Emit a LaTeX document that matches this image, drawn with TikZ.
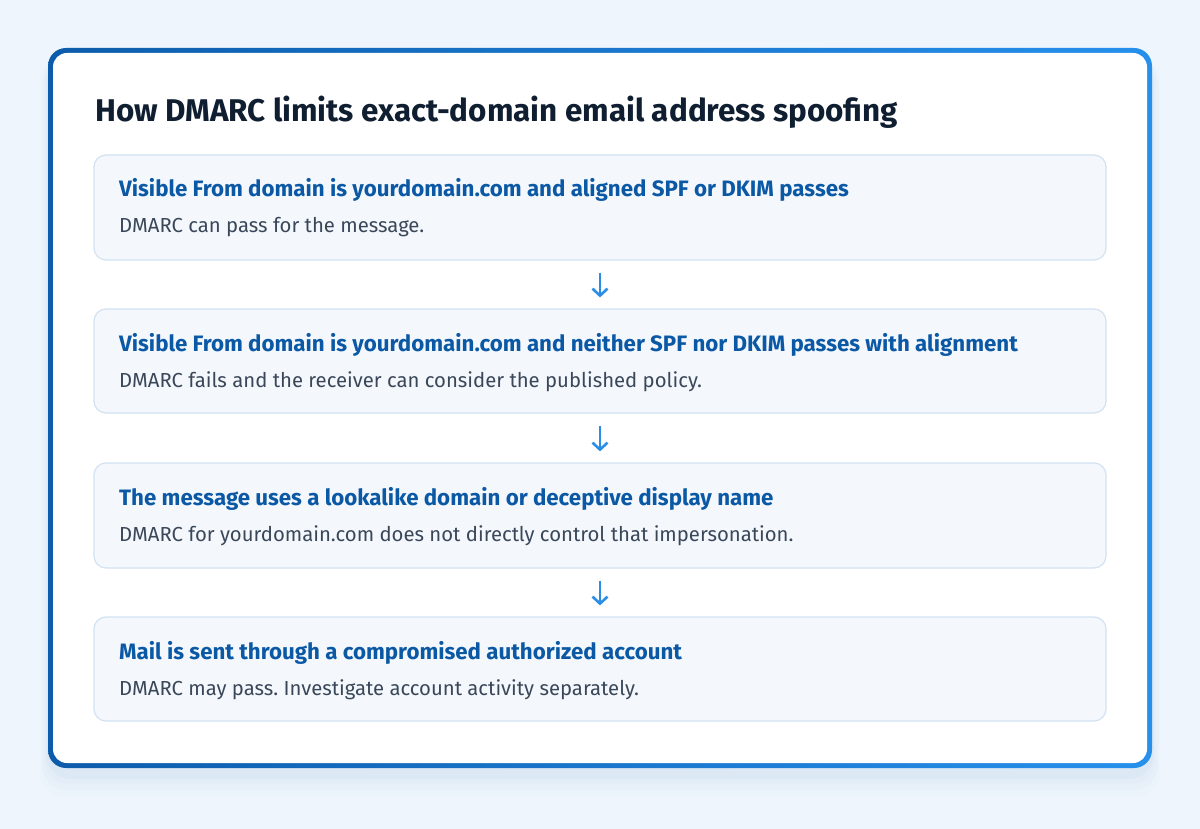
\documentclass[tikz,border=0pt]{standalone}
\usepackage{fontspec}
\setmainfont{Fira Sans}
\usetikzlibrary{arrows.meta}
\frenchspacing
\definecolor{bgcol}{HTML}{EEF5FC}
\definecolor{framel}{HTML}{0D5CAB}
\definecolor{framer}{HTML}{2690EC}
\definecolor{boxfill}{HTML}{F4F8FD}
\definecolor{boxline}{HTML}{D3E2F3}
\definecolor{titlecol}{HTML}{0F1E31}
\definecolor{headcol}{HTML}{0B58A5}
\definecolor{bodycol}{HTML}{3A4759}
\definecolor{arrcol}{HTML}{2A8EE6}
\tikzset{
  stepbox/.style={draw=boxline, line width=1.2pt, fill=boxfill, rounded corners=12pt,
    minimum width=1012pt, minimum height=104pt, inner sep=0pt},
  headtxt/.style={anchor=base west, inner sep=0pt, text=headcol,
    font=\fontsize{22.3}{26}\selectfont\bfseries},
  bodytxt/.style={anchor=base west, inner sep=0pt, text=bodycol,
    font=\fontsize{20.3}{24}\selectfont},
  flowarr/.style={draw=arrcol, line width=2.6pt, -{Straight Barb[length=7pt,width=15pt,line width=2.6pt]}},
}
\begin{document}
\begin{tikzpicture}[x=1pt,y=-1pt]
\useasboundingbox (0,0) rectangle (1200,829);
\fill[bgcol] (0,0) rectangle (1200,829);
% soft shadow
\foreach \i/\o in {14/0.012,10/0.016,6/0.02,3/0.025}{
  \fill[framel,opacity=\o,rounded corners=24pt] (48-\i*0.6,60-\i*0.2) rectangle (1152+\i*0.6,774+\i*1.6);
}
% frame
\shade[left color=framel,right color=framer,rounded corners=18pt] (48,48) rectangle (1152,768);
\fill[white,rounded corners=14pt] (53,53) rectangle (1147,763);
% title
\node[anchor=base west, inner sep=0pt, text=titlecol, font=\fontsize{31.4}{36}\selectfont\bfseries]
  (title) at (95,122) {How DMARC limits exact-domain email address spoofing};
% boxes
\node[stepbox, minimum height=105pt] (b1) at (600,207.5) {};
\node[stepbox] (b2) at (600,361) {};
\node[stepbox, minimum height=105pt] (b3) at (600,515.5) {};
\node[stepbox] (b4) at (600,669) {};
% texts
\node[headtxt] (h1) at (119,197) {Visible From domain is yourdomain.com and aligned SPF or DKIM passes};
\node[bodytxt] (t1) at (119,233) {DMARC can pass for the message.};
\node[headtxt] (h2) at (119,351) {Visible From domain is yourdomain.com and neither SPF nor DKIM passes with alignment};
\node[bodytxt] (t2) at (119,387) {DMARC fails and the receiver can consider the published policy.};
\node[headtxt] (h3) at (119,505) {The message uses a lookalike domain or deceptive display name};
\node[bodytxt] (t3) at (119,541) {DMARC for yourdomain.com does not directly control that impersonation.};
\node[headtxt] (h4) at (119,659) {Mail is sent through a compromised authorized account};
\node[bodytxt] (t4) at (119,695) {DMARC may pass. Investigate account activity separately.};
% arrows
\draw[flowarr] ([yshift=-12pt]b1.south) -- ([yshift=11pt]b2.north);
\draw[flowarr] ([yshift=-12pt]b2.south) -- ([yshift=11pt]b3.north);
\draw[flowarr] ([yshift=-12pt]b3.south) -- ([yshift=11pt]b4.north);
\end{tikzpicture}
\end{document}
